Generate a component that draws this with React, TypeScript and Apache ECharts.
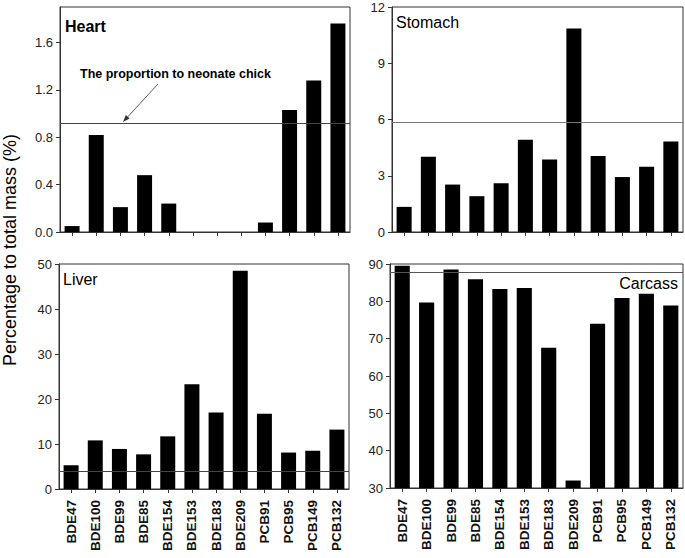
import React, { useEffect, useRef } from "react";
import * as echarts from "echarts";

const categories = ["BDE47", "BDE100", "BDE99", "BDE85", "BDE154", "BDE153", "BDE183", "BDE209", "PCB91", "PCB95", "PCB149", "PCB132"];
const heartValues = [0.05, 0.82, 0.21, 0.48, 0.24, 0, 0, 0, 0.08, 1.03, 1.28, 1.76];
const stomachValues = [1.34, 4.01, 2.53, 1.91, 2.6, 4.92, 3.87, 10.86, 4.05, 2.93, 3.48, 4.83];
const liverValues = [5.3, 10.8, 8.9, 7.7, 11.7, 23.3, 17.0, 48.5, 16.7, 8.1, 8.5, 13.2];
const carcassValues = [89.5, 79.7, 88.5, 85.9, 83.3, 83.6, 67.6, 32.0, 74.0, 80.9, 82.0, 78.9];
const neonateHeart = 0.92;
const neonateStomach = 5.87;
const neonateLiver = 4.0;
const neonateCarcass = 87.9;

const panelNames = ["Heart", "Stomach", "Liver", "Carcass"];
const yTitle = "Percentage to total mass (%)";
const annotation = "The proportion to neonate chick";

const FONT = "'Liberation Sans', Arial, Helvetica, sans-serif";

export default function App() {
  const ref = useRef<HTMLDivElement>(null);
  useEffect(() => {
    if (!ref.current) return;
    const chart = echarts.init(ref.current, null, { renderer: "svg" });
    const grids = [
      { left: 60, top: 7, width: 290, height: 225 },
      { left: 392, top: 7, width: 291, height: 225 },
      { left: 59, top: 264, width: 290, height: 225 },
      { left: 390, top: 264, width: 293, height: 224 },
    ].map((g) => ({ ...g, show: true, borderColor: "#333", borderWidth: 1, backgroundColor: "transparent", containLabel: false }));

    const yCfg = [
      { min: 0, max: 1.9, interval: 0.4, fmt: (v: number) => v.toFixed(1) },
      { min: 0, max: 12, interval: 3, fmt: (v: number) => String(v) },
      { min: 0, max: 50, interval: 10, fmt: (v: number) => String(v) },
      { min: 30, max: 90, interval: 10, fmt: (v: number) => String(v) },
    ];

    const xAxis = grids.map((_, i) => ({
      type: "category",
      gridIndex: i,
      data: categories,
      axisLine: { lineStyle: { color: "#333", width: 1 } },
      axisTick: { show: true, alignWithLabel: true, length: 4, lineStyle: { color: "#333" } },
      axisLabel: {
        show: i >= 2,
        rotate: 90,
        interval: 0,
        margin: 11,
        fontFamily: FONT,
        fontWeight: "bold",
        fontSize: 13.5,
        color: "#111",
      },
      splitLine: { show: false },
    }));

    const yAxis = yCfg.map((c, i) => ({
      type: "value",
      gridIndex: i,
      min: c.min,
      max: c.max,
      interval: c.interval,
      axisLine: { show: true, lineStyle: { color: "#333", width: 1 } },
      axisTick: { show: true, length: 4, lineStyle: { color: "#333" } },
      axisLabel: {
        fontFamily: FONT,
        fontSize: 13,
        color: "#222",
        margin: 7,
        showMaxLabel: i === 0 ? false : true,
        formatter: (v: number) => c.fmt(v),
      },
      splitLine: { show: false },
    }));

    const values = [heartValues, stomachValues, liverValues, carcassValues];
    const refs = [neonateHeart, neonateStomach, neonateLiver, neonateCarcass];
    const refColors = ["#444", "#777", "#444", "#555"];

    const series = values.map((vals, i) => ({
      type: "bar",
      name: panelNames[i],
      xAxisIndex: i,
      yAxisIndex: i,
      data: vals,
      barCategoryGap: "38%",
      itemStyle: { color: "#000" },
      markLine: {
        silent: true,
        symbol: "none",
        label: { show: false },
        lineStyle: { color: refColors[i], width: 1, type: "solid" },
        data: [{ yAxis: refs[i] }],
      },
    }));

    const textStyle = (t: string, x: number, y: number, font: string, align = "left") => ({
      text: t,
      x,
      y,
      font,
      fill: "#000",
      align,
      verticalAlign: "middle",
      textAlign: align,
      textVerticalAlign: "middle",
    });

    // arrowhead geometry
    const tip = [123, 122];
    const start = [158, 84];
    const dx = tip[0] - start[0];
    const dy = tip[1] - start[1];
    const len = Math.sqrt(dx * dx + dy * dy);
    const ux = dx / len;
    const uy = dy / len;
    const hl = 7;
    const hw = 2.6;
    const bx = tip[0] - ux * hl;
    const by = tip[1] - uy * hl;

    chart.setOption({
      animation: false,
      backgroundColor: "#fff",
      grid: grids,
      xAxis,
      yAxis,
      series,
      graphic: [
        { type: "text", style: textStyle(panelNames[0], 65, 26, `bold 16px ${FONT}`) },
        { type: "text", style: textStyle(panelNames[1], 396, 22.5, `16px ${FONT}`) },
        { type: "text", style: textStyle(panelNames[2], 63, 279.5, `16px ${FONT}`) },
        { type: "text", style: textStyle(panelNames[3], 678, 283.5, `16px ${FONT}`, "right") },
        { type: "text", style: textStyle(annotation, 80, 73.5, `bold 12.5px ${FONT}`) },
        {
          type: "line",
          shape: { x1: start[0], y1: start[1], x2: bx, y2: by },
          style: { stroke: "#333", lineWidth: 0.8 },
        },
        {
          type: "polygon",
          shape: {
            points: [
              [tip[0], tip[1]],
              [bx - uy * hw, by + ux * hw],
              [bx + uy * hw, by - ux * hw],
            ],
          },
          style: { fill: "#333" },
        },
        {
          type: "text",
          x: 10,
          y: 250,
          rotation: Math.PI / 2,
          style: textStyle(yTitle, 0, 0, `18px ${FONT}`, "center"),
        },
      ],
    });
    return () => chart.dispose();
  }, []);
  return <div ref={ref} style={{ position: "fixed", left: 0, top: 0, width: 685, height: 558 }} />;
}
